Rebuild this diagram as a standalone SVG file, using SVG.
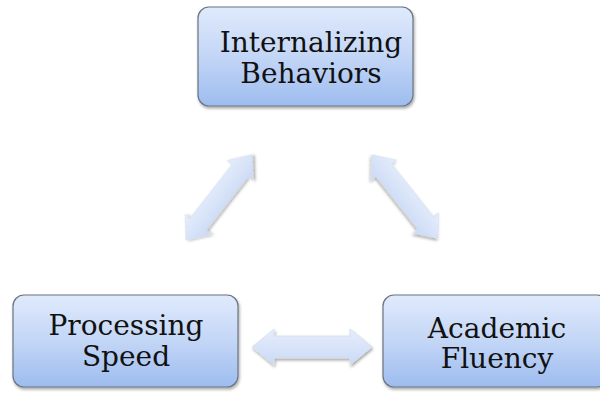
<svg xmlns="http://www.w3.org/2000/svg" width="600" height="398" viewBox="0 0 600 398">
<defs>
<linearGradient id="boxg" x1="0" y1="0" x2="0" y2="1">
<stop offset="0" stop-color="#e0eafc"/>
<stop offset="0.5" stop-color="#c3d6f6"/>
<stop offset="1" stop-color="#9dbcef"/>
</linearGradient>
<linearGradient id="arrg" x1="0" y1="0" x2="0" y2="1">
<stop offset="0" stop-color="#e6eefc"/>
<stop offset="1" stop-color="#cad9f5"/>
</linearGradient>
<filter id="sh" x="-10%" y="-10%" width="120%" height="130%">
<feGaussianBlur in="SourceAlpha" stdDeviation="1.5"/>
<feOffset dx="1" dy="2" result="b"/>
<feComponentTransfer><feFuncA type="linear" slope="0.35"/></feComponentTransfer>
<feMerge><feMergeNode/><feMergeNode in="SourceGraphic"/></feMerge>
</filter>
<path id="arrow" d="M -60,0 L -38,-18 L -38,-11 L 38,-11 L 38,-18 L 60,0 L 38,18 L 38,11 L -38,11 L -38,18 Z"/>
</defs>
<style>
.box{fill:url(#boxg);stroke:#6b7480;stroke-width:1.2;filter:url(#sh)}
.lbl{font-family:"DejaVu Serif","Liberation Serif",serif;font-size:28px;fill:#111;text-anchor:middle}
.arr{fill:url(#arrg);stroke:#d4deee;stroke-width:0.8;filter:url(#sh)}
</style>
<rect width="600" height="398" fill="#ffffff"/>
<g id="connectors">
<use href="#arrow" class="arr" transform="translate(312,347)"/>
<use href="#arrow" class="arr" transform="translate(219,197.5) rotate(-52) scale(0.9,0.9)"/>
<use href="#arrow" class="arr" transform="translate(405,196.5) rotate(51.5) scale(0.89,0.9)"/>
</g>
<g id="internalizing">
<rect class="box" x="198" y="7" width="215" height="99" rx="11"/>
<text class="lbl" x="311" y="52">Internalizing</text>
<text class="lbl" x="311" y="83">Behaviors</text>
</g>
<g id="processing">
<rect class="box" x="13" y="295" width="225" height="92" rx="11"/>
<text class="lbl" x="126" y="335">Processing</text>
<text class="lbl" x="126" y="366">Speed</text>
</g>
<g id="academic">
<rect class="box" x="383" y="295" width="225" height="92" rx="11"/>
<text class="lbl" x="497" y="338">Academic</text>
<text class="lbl" x="497" y="368">Fluency</text>
</g>
</svg>
